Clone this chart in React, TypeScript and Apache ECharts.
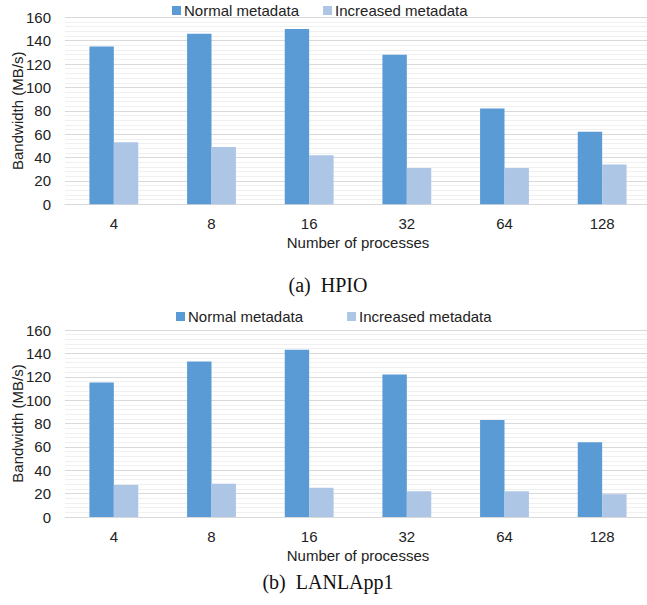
import React, { useEffect, useRef } from "react";
import * as echarts from "echarts";

const categories = ["4", "8", "16", "32", "64", "128"];
const hpioNormal = [135, 146, 150, 128, 82, 62];
const hpioIncreased = [53, 49, 42, 31, 31, 34];
const lanlNormal = [115, 133, 143, 122, 83, 64];
const lanlIncreased = [27.5, 28.5, 25, 22, 22, 19.5];
const yTicks = { min: 0, max: 160, interval: 20 };
const seriesNames = ["Normal metadata", "Increased metadata"];
const captions = ["(a)  HPIO", "(b)  LANLApp1"];

const NORMAL = "#5b9bd5";
const INCREASED = "#adc6e6";
const FONT = "'Liberation Sans', Arial, sans-serif";

export default function App() {
  const ref = useRef<HTMLDivElement>(null);
  useEffect(() => {
    if (!ref.current) return;
    const chart = echarts.init(ref.current, undefined, { renderer: "svg" });
    const gridTops = [17.3, 330];
    const gridH = 187;
    const grids = gridTops.map((t) => ({
      left: 65,
      top: t,
      width: 586,
      height: gridH,
      outerBoundsMode: "none",
      containLabel: false,
    }));
    const xAxes = gridTops.map((_, i) => ({
      type: "category",
      gridIndex: i,
      data: categories,
      axisLine: { lineStyle: { color: "#d9d9d9", width: 1 } },
      axisTick: { show: false },
      axisLabel: { color: "#222", fontSize: 15, fontFamily: FONT, margin: 12 },
      name: "Number of processes",
      nameLocation: "middle",
      nameGap: 31,
      nameMoveOverlap: false,
      nameTextStyle: { color: "#222", fontSize: 15, fontFamily: FONT },
    }));
    const yAxes = gridTops.map((_, i) => ({
      type: "value",
      gridIndex: i,
      min: yTicks.min,
      max: yTicks.max,
      interval: yTicks.interval,
      axisLine: { show: false },
      axisTick: { show: false },
      axisLabel: { color: "#222", fontSize: 15, fontFamily: FONT, margin: 14 },
      splitLine: { show: true, lineStyle: { color: "#d9d9d9", width: 1 } },
      minorTick: { show: false, splitNumber: 5 },
      minorSplitLine: { show: true, lineStyle: { color: "#f0f0f0", width: 1 } },
      name: "Bandwidth (MB/s)",
      nameLocation: "middle",
      nameGap: 40,
      nameMoveOverlap: false,
      nameTextStyle: { color: "#222", fontSize: 15, fontFamily: FONT },
    }));
    const mk = (name: string, data: number[], idx: number, color: string) => ({
      type: "bar",
      name,
      data,
      xAxisIndex: idx,
      yAxisIndex: idx,
      barGap: "0%",
      barCategoryGap: "50%",
      itemStyle: { color },
      emphasis: { disabled: true },
    });
    const legendBase = {
      padding: 0,
      itemWidth: 9,
      itemHeight: 9,
      icon: "rect",
      textStyle: { color: "#222", fontSize: 15, fontFamily: FONT, padding: [0, 0, 0, -2] },
      data: seriesNames,
    };
    chart.setOption({
      animation: false,
      grid: grids,
      xAxis: xAxes,
      yAxis: yAxes,
      legend: [
        { ...legendBase, top: 3, left: 172, itemGap: 24 },
        { ...legendBase, top: 309, left: 176, itemGap: 44 },
      ],
      series: [
        mk(seriesNames[0], hpioNormal, 0, NORMAL),
        mk(seriesNames[1], hpioIncreased, 0, INCREASED),
        mk(seriesNames[0], lanlNormal, 1, NORMAL),
        mk(seriesNames[1], lanlIncreased, 1, INCREASED),
      ],
      graphic: [
        {
          type: "text",
          x: 328,
          y: 285,
          style: {
            text: captions[0],
            fill: "#111",
            font: "20px 'Liberation Serif', 'Times New Roman', serif",
            textAlign: "center",
            textVerticalAlign: "middle",
          },
        },
        {
          type: "text",
          x: 328,
          y: 582,
          style: {
            text: captions[1],
            fill: "#111",
            font: "20px 'Liberation Serif', 'Times New Roman', serif",
            textAlign: "center",
            textVerticalAlign: "middle",
          },
        },
      ],
    });
    return () => chart.dispose();
  }, []);
  return (
    <div
      ref={ref}
      style={{ position: "fixed", left: 0, top: 0, width: 647, height: 605, background: "#fff" }}
    />
  );
}
